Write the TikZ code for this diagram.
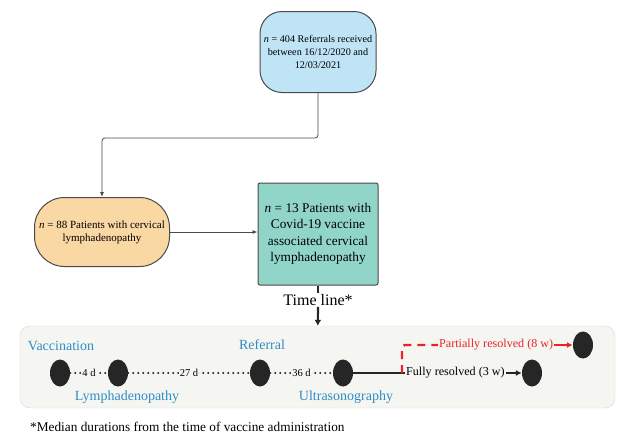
\documentclass[tikz,border=0pt]{standalone}
\usepackage{fontspec}
\setmainfont{Liberation Serif}
\usetikzlibrary{shapes.geometric,arrows.meta}
\definecolor{boxblue}{HTML}{BFE4F5}
\definecolor{boxorange}{HTML}{FAD8A4}
\definecolor{boxteal}{HTML}{91D5C9}
\definecolor{boxline}{HTML}{4A4A4A}
\definecolor{panelgray}{HTML}{F5F6F2}
\definecolor{panelline}{HTML}{D6D9D2}
\definecolor{dotgray}{HTML}{262626}
\definecolor{stageblue}{HTML}{2E8CC6}
\definecolor{resred}{HTML}{E8242A}
\begin{document}
\begin{tikzpicture}[x=1pt,y=-1pt,
        flowbox/.style={draw=boxline,line width=1pt,align=center,inner sep=0pt},
        dot/.style={ellipse,fill=dotgray,minimum width=20pt,minimum height=27pt,inner sep=0pt},
        stage/.style={text=stageblue,inner sep=1pt,font=\fontsize{14}{16}\selectfont},
        gap/.style={fill=panelgray,inner sep=1pt,font=\fontsize{10.5}{12}\selectfont},
        note/.style={anchor=west,inner sep=1pt,font=\fontsize{12.1}{14}\selectfont},
        dotline/.style={draw=dotgray,line width=2.2pt,line cap=round,dash pattern=on 0pt off 5pt},
        link/.style={draw=boxline,line width=0.8pt,rounded corners=3pt,-{Latex[length=5pt,width=4pt]}}]
        \useasboundingbox (0,0) rectangle (618,434);
        \begin{scope}
            \node[flowbox,fill=boxblue,minimum width=116pt,minimum height=81pt,rounded corners=22pt,font=\fontsize{10.2}{12.8}\selectfont] (referrals) at (318,52) {\textit{n} = 404 Referrals received\\between 16/12/2020 and\\12/03/2021};
            \node[flowbox,fill=boxorange,minimum width=135pt,minimum height=69pt,rounded corners=30pt,font=\fontsize{11}{13}\selectfont] (patients) at (102,232) {\textit{n} = 88 Patients with cervical\\lymphadenopathy};
            \node[flowbox,fill=boxteal,minimum width=120pt,minimum height=102pt,rounded corners=2pt,font=\fontsize{13.3}{16.5}\selectfont] (cases) at (318,234) {\textit{n} = 13 Patients with\\Covid-19 vaccine\\associated cervical\\lymphadenopathy};
            \coordinate (bend) at (318,138);
            \draw[link] (referrals) -- (bend) -| (patients);
            \draw[link] (patients.east) -- (patients.east -| cases.west);
            \node[inner sep=1pt,font=\fontsize{16}{18}\selectfont] (timeline) at (318,300) {Time line*};
            \node[draw=panelline,fill=panelgray,rounded corners=10pt,minimum width=595pt,minimum height=82pt] (panel) at (317.5,367) {};
            \draw[dotgray,line width=2.2pt] (cases) -- (timeline);
            \draw[dotgray,line width=2.2pt,-{Latex[length=6pt,width=7pt]}] (timeline) -- (panel);
        \end{scope}
        \begin{scope}
            \node[dot] (vacc) at (60,373) {};
            \node[dot] (lymph) at (118,373) {};
            \node[dot] (refer) at (260,373) {};
            \node[dot] (ultra) at (343,373) {};
            \node[dot] (full) at (532,373) {};
            \node[dot] (part) at (583,345) {};
            \node[stage] (vacclabel) at (61,346) {Vaccination};
            \node[stage] (lymphlabel) at (127,397) {Lymphadenopathy};
            \node[stage] (referlabel) at (262,345) {Referral};
            \node[stage] (ultralabel) at (346,397) {Ultrasonography};
            \draw[dotline] (vacc) -- node[gap] {4 d} (lymph);
            \draw[dotline] (lymph) -- node[gap] {27 d} (refer);
            \draw[dotline] (refer) -- node[gap] {36 d} (ultra);
            \coordinate (fork) at (402,373);
            \node[note] (fullnote) at (405,373) {Fully resolved (3 w)};
            \node[note,text=resred] (partnote) at (438,345) {Partially resolved (8 w)};
            \draw[dotgray,line width=1.6pt] (ultra) -- (fullnote);
            \draw[dotgray,line width=1.2pt,-{Latex[length=6pt,width=6pt]}] (fullnote) -- (full);
            \draw[resred,line width=2.4pt,dash pattern=on 8pt off 6pt,rounded corners=3pt] (fork) |- (partnote);
            \draw[resred,line width=1.6pt,-{Latex[length=6pt,width=6pt]}] (partnote) -- (part);
        \end{scope}
        \node[anchor=west,inner sep=0pt,font=\fontsize{13.3}{15}\selectfont] (footnote) at (30,427) {*Median durations from the time of vaccine administration};
    \end{tikzpicture}
\end{document}
